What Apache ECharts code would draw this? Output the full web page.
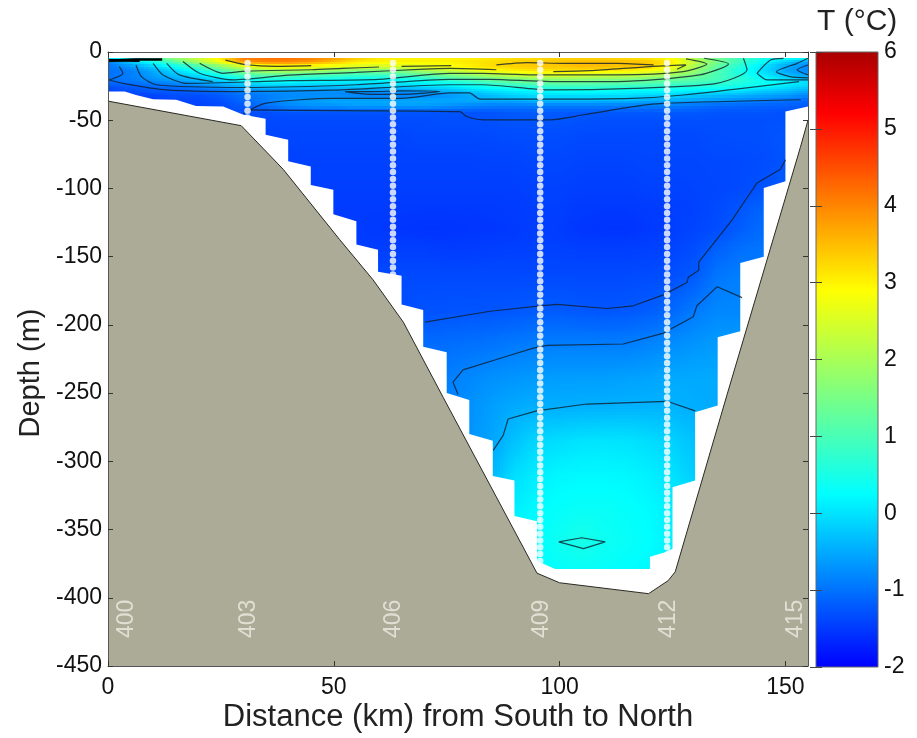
<!DOCTYPE html>
<html><head><meta charset="utf-8">
<style>html,body{margin:0;padding:0;background:#fff}#c{width:917px;height:738px}</style>
<script src="https://cdn.jsdelivr.net/npm/echarts@6/dist/echarts.min.js"></script>
</head><body><div id="c"></div>
<script>
const xNodes=[0,5,10,15,20,25,30,35,40,45,50,55,60,65,70,75,80,85,90,95,100,105,110,115,120,125,130,135,140,145,150,155];
const depthNodes=[-4.5,-8,-11,-14,-17,-20,-23,-26,-29,-32,-36,-40,-44,-50,-60,-80,-100,-115,-130,-145,-165,-190,-215,-240,-260,-285,-310,-335,-358,-380];
const tempRows=[
[0.2,0.5,1.0,1.8,2.4,3.1,4.1,4.2,4.2,4.1,3.8,3.4,3.1,3.0,3.0,3.0,3.0,3.1,3.2,3.2,3.3,3.3,3.3,3.2,3.1,2.8,2.0,1.4,0.9,0.5,0.4,0.3],
[-0.9,-0.2,0.4,1.2,2.0,2.8,3.8,4.0,4.0,3.8,3.5,3.1,3.0,3.0,3.0,3.0,3.1,3.2,3.3,3.4,3.4,3.5,3.5,3.5,3.4,3.1,2.3,1.5,0.9,0.3,-0.2,-0.6],
[-1.0,-0.7,-0.2,0.3,0.9,1.6,2.3,2.8,2.9,2.8,2.6,2.5,2.4,2.5,2.7,2.8,3.0,3.2,3.3,3.4,3.4,3.5,3.5,3.4,3.3,2.8,2.0,1.2,0.6,0.0,-0.5,-0.8],
[-1.0,-0.9,-0.5,-0.1,0.4,1.0,1.6,2.0,2.0,1.9,1.7,1.5,1.5,1.6,1.9,2.2,2.5,2.8,3.0,3.1,3.1,3.1,3.0,3.0,2.8,2.4,1.8,1.1,0.5,0.0,-0.5,-0.8],
[-1.0,-0.9,-0.6,-0.3,0.0,0.5,1.0,1.2,1.2,1.1,1.0,0.9,0.9,1.0,1.2,1.5,1.8,2.1,2.4,2.5,2.6,2.5,2.4,2.3,2.2,1.9,1.5,1.0,0.6,0.1,-0.3,-0.6],
[-1.0,-0.9,-0.7,-0.5,-0.3,0.0,0.4,0.6,0.6,0.5,0.4,0.3,0.3,0.4,0.6,0.9,1.1,1.4,1.6,1.8,1.8,1.8,1.7,1.7,1.5,1.4,1.2,1.0,0.7,0.3,0.0,-0.3],
[-1.1,-1.0,-0.9,-0.8,-0.6,-0.4,-0.1,0.1,0.1,0.0,0.0,0.0,0.0,0.1,0.2,0.4,0.6,0.9,1.1,1.2,1.3,1.3,1.2,1.2,1.1,1.0,0.9,0.8,0.6,0.4,0.2,0.0],
[-1.3,-1.2,-1.1,-1.0,-0.9,-0.7,-0.5,-0.3,-0.3,-0.3,-0.3,-0.2,-0.2,-0.2,-0.1,0.0,0.2,0.4,0.6,0.7,0.8,0.8,0.8,0.7,0.7,0.6,0.6,0.5,0.4,0.2,0.0,-0.2],
[-1.4,-1.3,-1.2,-1.2,-1.1,-1.0,-0.8,-0.7,-0.7,-0.7,-0.7,-0.7,-0.7,-0.7,-0.6,-0.4,-0.2,0.0,0.1,0.2,0.3,0.3,0.3,0.2,0.2,0.2,0.1,0.1,0.0,-0.2,-0.3,-0.5],
[-1.45,-1.4,-1.4,-1.3,-1.3,-1.2,-1.0,-0.9,-0.8,-0.8,-0.8,-0.85,-0.9,-0.9,-0.8,-0.7,-0.5,-0.3,-0.1,0.0,0.0,0.0,0.0,0.0,-0.1,-0.1,-0.2,-0.3,-0.4,-0.5,-0.6,-0.8],
[-1.45,-1.45,-1.45,-1.4,-1.4,-1.3,-1.1,-0.9,-0.7,-0.6,-0.5,-0.5,-0.5,-0.5,-0.5,-0.5,-0.5,-0.5,-0.5,-0.4,-0.4,-0.4,-0.4,-0.4,-0.5,-0.5,-0.6,-0.7,-0.8,-0.9,-1.0,-1.1],
[-1.45,-1.45,-1.45,-1.4,-1.4,-1.35,-1.2,-1.0,-0.8,-0.7,-0.7,-0.6,-0.6,-0.6,-0.6,-0.7,-0.8,-0.9,-0.9,-0.9,-0.9,-0.9,-0.9,-0.9,-0.9,-0.9,-1.0,-1.1,-1.1,-1.15,-1.15,-1.2],
[-1.45,-1.45,-1.4,-1.4,-1.4,-1.35,-1.3,-1.3,-1.25,-1.25,-1.25,-1.25,-1.25,-1.25,-1.25,-1.25,-1.25,-1.25,-1.2,-1.2,-1.2,-1.2,-1.2,-1.2,-1.2,-1.2,-1.2,-1.25,-1.25,-1.25,-1.3,-1.3],
[-1.45,-1.45,-1.45,-1.4,-1.4,-1.4,-1.35,-1.35,-1.35,-1.35,-1.35,-1.35,-1.35,-1.32,-1.32,-1.3,-1.3,-1.28,-1.25,-1.25,-1.25,-1.28,-1.3,-1.3,-1.3,-1.3,-1.3,-1.3,-1.3,-1.3,-1.3,-1.3],
[-1.45,-1.45,-1.45,-1.45,-1.45,-1.42,-1.4,-1.4,-1.38,-1.38,-1.38,-1.38,-1.38,-1.38,-1.35,-1.35,-1.35,-1.35,-1.32,-1.32,-1.32,-1.35,-1.35,-1.35,-1.35,-1.35,-1.35,-1.32,-1.3,-1.3,-1.25,-1.2],
[-1.45,-1.45,-1.45,-1.45,-1.45,-1.45,-1.42,-1.42,-1.42,-1.42,-1.42,-1.42,-1.42,-1.42,-1.42,-1.42,-1.42,-1.4,-1.4,-1.38,-1.38,-1.4,-1.4,-1.4,-1.38,-1.38,-1.38,-1.36,-1.36,-1.33,-1.27,-1.2],
[-1.45,-1.45,-1.45,-1.45,-1.45,-1.45,-1.45,-1.45,-1.45,-1.45,-1.45,-1.45,-1.45,-1.45,-1.45,-1.45,-1.45,-1.45,-1.45,-1.42,-1.42,-1.45,-1.45,-1.45,-1.42,-1.42,-1.4,-1.38,-1.35,-1.28,-1.2,-1.15],
[-1.48,-1.48,-1.48,-1.48,-1.48,-1.48,-1.48,-1.48,-1.48,-1.48,-1.48,-1.48,-1.48,-1.49,-1.5,-1.5,-1.5,-1.49,-1.48,-1.45,-1.45,-1.49,-1.5,-1.5,-1.48,-1.45,-1.42,-1.35,-1.25,-1.12,-1.05,-1.05],
[-1.48,-1.48,-1.48,-1.48,-1.48,-1.48,-1.48,-1.48,-1.48,-1.48,-1.48,-1.48,-1.5,-1.53,-1.55,-1.55,-1.53,-1.52,-1.5,-1.45,-1.47,-1.53,-1.55,-1.55,-1.5,-1.45,-1.4,-1.33,-1.18,-1.05,-1.0,-1.0],
[-1.45,-1.45,-1.45,-1.45,-1.45,-1.45,-1.45,-1.45,-1.45,-1.45,-1.45,-1.45,-1.45,-1.45,-1.45,-1.47,-1.47,-1.45,-1.44,-1.43,-1.43,-1.45,-1.45,-1.45,-1.43,-1.4,-1.32,-1.15,-1.02,-0.97,-0.97,-0.97],
[-1.35,-1.35,-1.35,-1.35,-1.35,-1.35,-1.35,-1.35,-1.35,-1.35,-1.35,-1.35,-1.35,-1.35,-1.35,-1.35,-1.35,-1.35,-1.35,-1.35,-1.35,-1.35,-1.35,-1.35,-1.33,-1.3,-1.2,-0.95,-0.88,-0.88,-0.88,-0.88],
[-1.3,-1.3,-1.3,-1.3,-1.3,-1.3,-1.3,-1.3,-1.3,-1.3,-1.3,-1.3,-1.3,-1.3,-1.28,-1.27,-1.26,-1.25,-1.23,-1.2,-1.2,-1.23,-1.25,-1.23,-1.18,-1.08,-0.92,-0.8,-0.8,-0.8,-0.8,-0.8],
[-1.05,-1.05,-1.05,-1.05,-1.05,-1.05,-1.05,-1.05,-1.05,-1.05,-1.05,-1.05,-1.05,-1.05,-1.05,-1.03,-1.0,-0.97,-0.92,-0.88,-0.88,-0.88,-0.88,-0.88,-0.83,-0.75,-0.68,-0.63,-0.63,-0.63,-0.63,-0.63],
[-0.95,-0.95,-0.95,-0.95,-0.95,-0.95,-0.95,-0.95,-0.95,-0.95,-0.95,-0.95,-0.95,-0.95,-0.95,-0.88,-0.8,-0.72,-0.68,-0.63,-0.6,-0.6,-0.6,-0.57,-0.55,-0.5,-0.5,-0.5,-0.5,-0.5,-0.5,-0.5],
[-0.85,-0.85,-0.85,-0.85,-0.85,-0.85,-0.85,-0.85,-0.85,-0.85,-0.85,-0.85,-0.85,-0.85,-0.85,-0.85,-0.73,-0.6,-0.5,-0.46,-0.46,-0.45,-0.44,-0.43,-0.42,-0.42,-0.47,-0.5,-0.5,-0.5,-0.5,-0.5],
[-0.7,-0.7,-0.7,-0.7,-0.7,-0.7,-0.7,-0.7,-0.7,-0.7,-0.7,-0.7,-0.7,-0.7,-0.7,-0.7,-0.7,-0.55,-0.3,-0.1,-0.05,0.0,0.02,0.0,-0.05,-0.15,-0.3,-0.3,-0.3,-0.3,-0.3,-0.3],
[-0.4,-0.4,-0.4,-0.4,-0.4,-0.4,-0.4,-0.4,-0.4,-0.4,-0.4,-0.4,-0.4,-0.4,-0.4,-0.4,-0.4,-0.4,-0.05,0.1,0.18,0.2,0.2,0.18,0.12,0.0,-0.2,-0.2,-0.2,-0.2,-0.2,-0.2],
[0.1,0.1,0.1,0.1,0.1,0.1,0.1,0.1,0.1,0.1,0.1,0.1,0.1,0.1,0.1,0.1,0.1,0.1,0.1,0.22,0.28,0.32,0.32,0.28,0.22,0.1,0.1,0.1,0.1,0.1,0.1,0.1],
[0.25,0.25,0.25,0.25,0.25,0.25,0.25,0.25,0.25,0.25,0.25,0.25,0.25,0.25,0.25,0.25,0.25,0.25,0.25,0.25,0.38,0.5,0.38,0.32,0.25,0.12,0.12,0.12,0.12,0.12,0.12,0.12],
[0.22,0.22,0.22,0.22,0.22,0.22,0.22,0.22,0.22,0.22,0.22,0.22,0.22,0.22,0.22,0.22,0.22,0.22,0.22,0.22,0.3,0.32,0.3,0.25,0.2,0.1,0.1,0.1,0.1,0.1,0.1,0.1]
];
const maskKm=[0,3.7,6.2,10,15.1,19.5,25.5,30,34.9,34.9,39.9,39.9,44.9,44.9,49.9,49.9,55,55,59.8,59.8,65,65,69.8,69.8,75,75,80,80,85.2,85.2,90,90,95,95,99,120,120,123,125,125,130,130,135,135,140,140,145.2,145.2,150,150,155];
const maskDepth=[-29,-29,-31.5,-34.6,-35,-39.5,-40,-46,-49,-60.7,-64.4,-80,-84,-97.5,-101,-119,-124,-141,-145,-161,-164,-185,-189,-216,-220,-250,-255,-280,-285,-310.7,-314,-340,-344,-373,-379,-379,-370,-367,-364,-319,-314,-264,-259,-209,-204.6,-154.6,-150,-99.7,-94.8,-43.6,-40];
const terrainKm=[0,29.5,38.8,51.3,58.7,65.4,74.2,95,100,119.7,124,125.6,137,153.3,155];
const terrainDepth=[-36,-54,-86,-137.5,-167,-198,-253,-382,-389,-397,-387.5,-381,-252,-70,-50];
const contours=[
[[70.2,-198],[84.6,-190],[95.7,-186],[99.4,-185],[110.5,-188],[116.3,-186],[123,-178],[128.2,-169],[128.5,-165],[130.8,-160],[130.8,-154],[138.2,-123],[143.7,-96],[148.9,-86],[150,-79]],
[[77.5,-251],[76.4,-242],[78.6,-233],[88.3,-223],[94.2,-217],[97.2,-215],[114.1,-214],[123,-206],[129.6,-194],[130.4,-186],[134.9,-172],[140.4,-180]],
[[85.3,-292],[87.5,-281],[88.6,-269],[94.9,-263],[106,-258],[123.8,-256],[130,-263]],
[[99.8,-359],[104.9,-356],[110.1,-359],[105.3,-364],[99.8,-359]],
[[30.6,-42.4],[50,-43],[77.9,-43.7],[79.4,-47.3],[83.1,-49.7],[97.9,-49.7],[105.3,-46],[116.4,-40],[123.8,-37.5],[153.4,-35]],
[[52.5,-29],[58,-29],[65.4,-28.5],[73.5,-29],[65,-31],[58,-31],[52.5,-29]],
[[30,-45],[35,-37.5],[50,-34],[65,-34],[75.7,-30],[80,-30],[82.4,-34.6],[98,-34.6],[116,-34],[127.4,-31.5],[153,-21.7]],
[[0.3,-20.5],[3.3,-23],[13,-27.8],[27.7,-29],[50,-28],[75.7,-24],[83,-24],[98,-27.8],[116.4,-26.6],[134.8,-23],[141.5,-13],[140.7,-4.6]],
[[2.5,-10.7],[3.3,-15.6],[0.3,-20.5]],
[[6.2,-9.5],[7.4,-18],[10.7,-24],[30,-26],[55,-24],[75.7,-20],[84.6,-20],[98,-21.7],[112.7,-21.7],[131,-16.8],[137.4,-8.8],[132,-4.6]],
[[10,-8.3],[12.2,-16.8],[17.3,-23],[40,-21],[60,-20],[75.7,-15.6],[83,-15.6],[94,-16.8],[112.7,-16.8],[127.4,-14.4],[132.6,-8.8],[128,-5]],
[[13,-8.3],[15.8,-16.8],[23.2,-21.7]],
[[16.6,-7],[20.3,-15.6],[27.7,-20.5],[40,-17],[55,-15],[70,-12.5],[75.7,-12],[86,-13]],
[[20.3,-8.3],[25.5,-15.6],[30.6,-14],[45,-13],[52,-12],[60,-11]],
[[26,-6],[30,-9],[37,-10.5],[45,-10]],
[[65,-10.5],[76,-10]],
[[86,-9.5],[92.7,-7.8],[100.8,-8.3],[112.7,-8.3],[120.8,-9.5]],
[[98.6,-14.4],[106.7,-13.7],[120,-10.7],[128,-9.5],[126,-12.7]],
[[143.7,-15.6],[146.7,-5.8],[149.6,-4.6]],
[[143.7,-15.6],[146,-20.5],[155,-20.5]],
[[155,-4.6],[152.6,-8.3],[148,-14.4],[151,-18],[155,-19]],
[[155,-9.5],[152.6,-13],[155,-16.8]],
[[0,-6],[7,-6.5]],
[[0,-6.5],[6,-5.5],[12,-5.5]]
];
const stationKm=[30.9,63.1,95.7,123.8];
const stationMaxDepth=[-48,-165,-375,-365];
const ctdDepths=[-8,-13,-18,-23,-28,-33,-38,-43,-48,-53,-58,-63,-68,-73,-78,-83,-88,-93,-98,-103,-108,-113,-118,-123,-128,-133,-138,-143,-148,-153,-158,-163,-168,-173,-178,-183,-188,-193,-198,-203,-208,-213,-218,-223,-228,-233,-238,-243,-248,-253,-258,-263,-268,-273,-278,-283,-288,-293,-298,-303,-308,-313,-318,-323,-328,-333,-338,-343,-348,-353,-358,-363,-368,-373];
const sectionNames=['400','403','406','409','412','415'];
const sectionKm=[4.1,31.2,63.3,96,124.2,152.2];
const colorValues=[-2,0.25,2.9,5.2,6];
const colorHex=['#0000ff','#00ffff','#ffff00','#ff0000','#a80000'];

const rgb=colorHex.map(h=>[1,3,5].map(i=>parseInt(h.slice(i,i+2),16)));
function colorOf(v){
  v=Math.max(-2,Math.min(6,v));
  let k=0; while(k<colorValues.length-2&&v>colorValues[k+1])k++;
  const f=(v-colorValues[k])/(colorValues[k+1]-colorValues[k]);
  const a=rgb[k],b=rgb[k+1];
  return 'rgb('+a.map((c,i)=>Math.round(c+(b[i]-c)*f)).join(',')+')';
}
const cells=[];
for(let j=0;j<depthNodes.length-1;j++)for(let i=0;i<xNodes.length-1;i++)cells.push([i,j]);

function renderCell(params,api){
  const i=api.value(0),j=api.value(1);
  const p0=api.coord([xNodes[i],depthNodes[j]]),p1=api.coord([xNodes[i+1],depthNodes[j+1]]);
  const a=tempRows[j][i],b=tempRows[j][i+1],c=tempRows[j+1][i],d=tempRows[j+1][i+1];
  const w=p1[0]-p0[0],h=p1[1]-p0[1];
  const nx=Math.max(1,Math.ceil(w/3)),ny=Math.max(1,Math.ceil(h/3));
  const children=[];
  for(let m=0;m<ny;m++){
    const y0=Math.floor(p0[1]+h*m/ny),y1=Math.ceil(p0[1]+h*(m+1)/ny),t=(m+.5)/ny;
    for(let n=0;n<nx;n++){
      const x0=Math.floor(p0[0]+w*n/nx),x1=Math.ceil(p0[0]+w*(n+1)/nx),s=(n+.5)/nx;
      const v=a*(1-s)*(1-t)+b*s*(1-t)+c*(1-s)*t+d*s*t;
      children.push({type:'rect',shape:{x:x0,y:y0,width:x1-x0,height:y1-y0},style:{fill:colorOf(v)},silent:true});
    }
  }
  return {type:'group',children};
}
const FONT='"Liberation Sans"';
const tick={show:true,inside:true,length:5,lineStyle:{color:'#333',width:1}};
const line={show:true,onZero:false,lineStyle:{color:'#555',width:1}};
const series=[
 {type:'custom',name:'Temperature',xAxisIndex:0,yAxisIndex:0,z:2,silent:true,progressive:0,animation:false,data:cells,encode:{x:0,y:1},renderItem:renderCell,clip:true},
 {type:'line',name:'mask',xAxisIndex:0,yAxisIndex:0,z:3,silent:true,showSymbol:false,animation:false,data:maskKm.map((k,i)=>[k,maskDepth[i]]),lineStyle:{width:0},areaStyle:{color:'#fff',opacity:1,origin:'start'}},
 {type:'line',name:'terrain',xAxisIndex:0,yAxisIndex:0,z:4,silent:true,showSymbol:false,animation:false,data:terrainKm.map((k,i)=>[k,terrainDepth[i]]),lineStyle:{width:1,color:'#2a2a24'},areaStyle:{color:'#abab98',opacity:1,origin:'start'}}
];
contours.forEach((c,i)=>series.push({type:'line',name:'contour'+i,xAxisIndex:0,yAxisIndex:0,z:5,silent:true,showSymbol:false,animation:false,data:c,smooth:i>=4&&i<22?0.25:false,lineStyle:{width:i>=22?2.5:1.2,color:i>=22?'#000':'rgba(15,30,45,0.8)'}}));
const dots=[];
stationKm.forEach((k,i)=>ctdDepths.forEach(d=>{if(d>=stationMaxDepth[i])dots.push([k,d]);}));
series.push({type:'scatter',name:'CTD',xAxisIndex:0,yAxisIndex:0,z:6,silent:true,animation:false,symbolSize:6.5,data:dots,itemStyle:{color:'#fff'}});
series.push({type:'scatter',name:'Sections',xAxisIndex:0,yAxisIndex:0,z:7,silent:true,animation:false,symbolSize:0,
  data:sectionNames.map((n,i)=>({name:n,value:[sectionKm[i],-415.5]})),
  label:{show:true,position:'inside',rotate:90,formatter:'{b}',color:'#ecece2',fontFamily:FONT,fontSize:23}});
series.push({type:'custom',name:'Colorbar',xAxisIndex:2,yAxisIndex:2,z:2,silent:true,animation:false,data:[[0,-2,6]],encode:{y:[1,2]},
  renderItem(p,api){
    const a=api.coord([0,6]),b=api.coord([1,-2]);
    const colorStops=colorValues.map((v,i)=>({offset:(6-v)/8,color:colorHex[i]})).reverse();
    return {type:'rect',shape:{x:a[0],y:a[1],width:b[0]-a[0],height:b[1]-a[1]},
      style:{fill:new echarts.graphic.LinearGradient(0,0,0,1,colorStops),stroke:'#666',lineWidth:1}};
  }});
const option={
 backgroundColor:'#fff',animation:false,
 title:{text:'T (°C)',left:812,top:2,textStyle:{fontFamily:FONT,fontWeight:'normal',fontSize:30,color:'#222'}},
 grid:[{left:108,right:109,top:52,bottom:71},{left:816,right:39,top:52,bottom:71}],
 xAxis:[
  {type:'value',gridIndex:0,min:0,max:155,interval:50,position:'bottom',z:10,axisLine:line,axisTick:tick,splitLine:{show:false},
   axisLabel:{showMaxLabel:false,fontFamily:FONT,fontSize:23,color:'#111',margin:10},
   name:'Distance (km) from South to North',nameLocation:'middle',nameGap:36,nameMoveOverlap:false,nameTextStyle:{fontFamily:FONT,fontSize:31,color:'#222'}},
  {type:'value',gridIndex:0,min:0,max:155,interval:50,position:'top',z:10,axisLine:line,axisTick:tick,axisLabel:{show:false},splitLine:{show:false}},
  {type:'value',gridIndex:1,min:0,max:1,position:'bottom',show:false}
 ],
 yAxis:[
  {type:'value',gridIndex:0,min:-450,max:0,interval:50,position:'left',z:10,axisLine:line,axisTick:tick,splitLine:{show:false},
   axisLabel:{fontFamily:FONT,fontSize:23,color:'#111',margin:6},
   name:'Depth (m)',nameLocation:'middle',nameGap:63,nameMoveOverlap:false,nameTextStyle:{fontFamily:FONT,fontSize:29,color:'#222',padding:[0,28,0,0]}},
  {type:'value',gridIndex:0,min:-450,max:0,interval:50,position:'right',z:10,axisLine:line,axisTick:tick,axisLabel:{show:false},splitLine:{show:false}},
  {type:'value',gridIndex:1,min:-2,max:6,interval:1,position:'right',z:10,axisLine:{show:false},
   axisTick:{show:true,inside:true,length:6,lineStyle:{color:'#444'}},splitLine:{show:false},
   axisLabel:{fontFamily:FONT,fontSize:23,color:'#111',margin:6}},
  {type:'value',gridIndex:1,min:-2,max:6,interval:1,position:'left',z:10,axisLine:{show:false},
   axisTick:{show:true,inside:true,length:6,lineStyle:{color:'#444'}},axisLabel:{show:false},splitLine:{show:false}}
 ],
 series
};
echarts.init(document.getElementById('c'),null,{renderer:'canvas'}).setOption(option);
</script></body></html>
